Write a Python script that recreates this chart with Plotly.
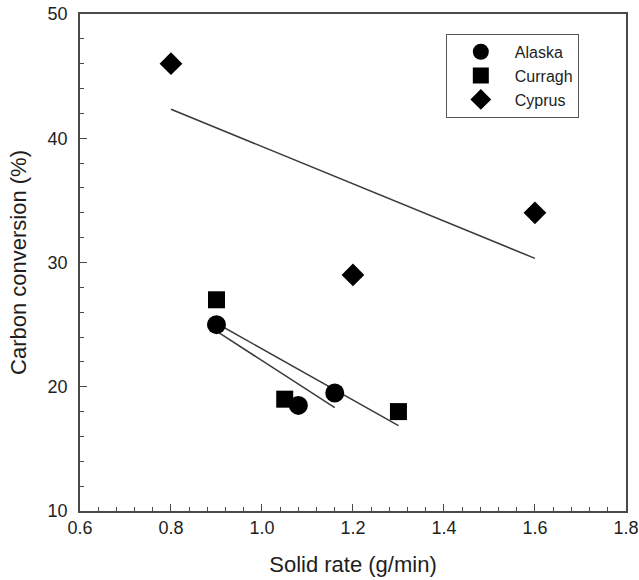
import numpy as np
import plotly.graph_objects as go

# Data
alaska_x = [0.90, 1.08, 1.16]
alaska_y = [25.0, 18.5, 19.5]
curragh_x = [0.90, 1.05, 1.30]
curragh_y = [27.0, 19.0, 18.0]
cyprus_x = [0.80, 1.20, 1.60]
cyprus_y = [46.0, 29.0, 34.0]

x_ticks = [0.6, 0.8, 1.0, 1.2, 1.4, 1.6, 1.8]
x_tick_text = ["0.6", "0.8", "1.0", "1.2", "1.4", "1.6", "1.8"]
y_ticks = [10, 20, 30, 40, 50]

FONT = "Arial, Liberation Sans, sans-serif"
TXT = "#1e1e1e"
AX = "#4a4a4a"

fig = go.Figure()

series = [
    ("Alaska", alaska_x, alaska_y, "circle", 19),
    ("Curragh", curragh_x, curragh_y, "square", 17),
    ("Cyprus", cyprus_x, cyprus_y, "diamond", 17.5),
]

# regression lines
for name, xs, ys, sym, sz in series:
    k, b = np.polyfit(xs, ys, 1)
    lx = np.array([min(xs), max(xs)])
    fig.add_trace(go.Scatter(x=lx, y=k * lx + b, mode="lines",
                             line=dict(color="#3a3a3a", width=1.5),
                             showlegend=False, hoverinfo="skip"))

for name, xs, ys, sym, sz in series:
    fig.add_trace(go.Scatter(x=xs, y=ys, mode="markers", name=name,
                             marker=dict(symbol=sym, size=sz, color="black",
                                         line=dict(width=0))))

axis_common = dict(
    showline=True, linecolor=AX, linewidth=1.5, mirror=True,
    ticks="inside", ticklen=7, tickwidth=1.2, tickcolor=AX,
    showgrid=False, zeroline=False, automargin=False,
    ticklabeloverflow="allow",
    tickfont=dict(family=FONT, size=18, color=TXT),
)

fig.update_xaxes(range=[0.6, 1.8002], tickvals=x_ticks, ticktext=x_tick_text,
                 minor=dict(dtick=0.04, tick0=0.6, ticks="inside", ticklen=4.5,
                            tickcolor=AX, tickwidth=1.2, showgrid=False),
                 title=dict(text="Solid rate (g/min)",
                            font=dict(family=FONT, size=22, color=TXT),
                            standoff=19),
                 **axis_common)
fig.update_yaxes(range=[10, 50.002], tickvals=y_ticks, ticklabelstandoff=7,
                 minor=dict(dtick=2, ticks="inside", ticklen=4.5,
                            tickcolor=AX, tickwidth=1.2, showgrid=False),
                 title=dict(text="Carbon conversion (%)",
                            font=dict(family=FONT, size=22, color=TXT),
                            standoff=15),
                 **axis_common)

fig.update_layout(
    width=639, height=580,
    margin=dict(l=80, r=13, t=14, b=69),
    plot_bgcolor="white", paper_bgcolor="white",
    legend=dict(x=0.67, y=0.96, xanchor="left", yanchor="top",
                bgcolor="white", bordercolor="#555", borderwidth=1,
                font=dict(family=FONT, size=16, color=TXT),
                itemwidth=58, tracegroupgap=0),
)

fig.write_html("out.html",
               config={"displayModeBar": False},
               post_script="document.body.style.margin='0';")
